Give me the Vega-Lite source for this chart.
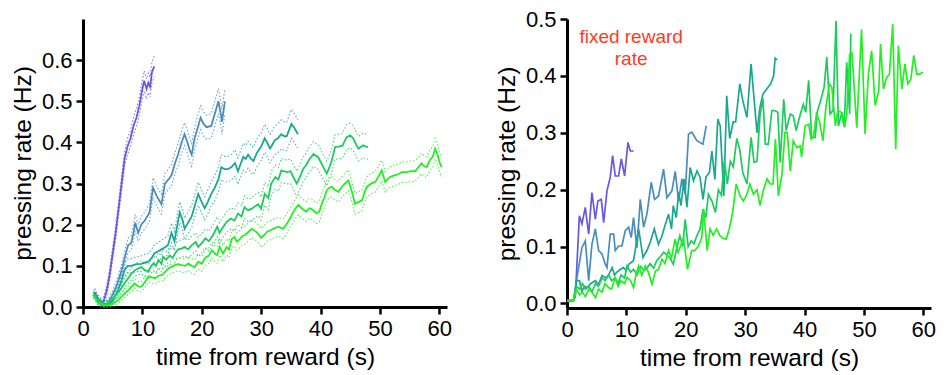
{
"$schema": "https://vega.github.io/schema/vega-lite/v6.json",
"padding": {"left": 10, "top": 8, "right": 5, "bottom": 5},
"background": "white",
"spacing": 42,
"datasets": {
"left": [
{"s":"1","t":2.0,"m":0.035,"lo":0.025,"hi":0.045},{"s":"1","t":2.5,"m":0.02,"lo":0.011,"hi":0.029},{"s":"1","t":3.0,"m":0.012,"lo":0.003,"hi":0.021},{"s":"1","t":3.5,"m":0.015,"lo":0.005,"hi":0.025},{"s":"1","t":4.0,"m":0.04,"lo":0.028,"hi":0.052},{"s":"1","t":4.5,"m":0.08,"lo":0.066,"hi":0.094},{"s":"1","t":5.0,"m":0.13,"lo":0.115,"hi":0.145},{"s":"1","t":5.5,"m":0.18,"lo":0.164,"hi":0.196},{"s":"1","t":6.0,"m":0.24,"lo":0.223,"hi":0.257},{"s":"1","t":6.5,"m":0.30,"lo":0.282,"hi":0.318},{"s":"1","t":7.0,"m":0.36,"lo":0.342,"hi":0.378},{"s":"1","t":7.5,"m":0.39,"lo":0.37,"hi":0.41},{"s":"1","t":8.0,"m":0.41,"lo":0.39,"hi":0.43},{"s":"1","t":8.5,"m":0.44,"lo":0.419,"hi":0.461},{"s":"1","t":9.0,"m":0.46,"lo":0.438,"hi":0.482},{"s":"1","t":9.5,"m":0.49,"lo":0.468,"hi":0.512},{"s":"1","t":10.0,"m":0.53,"lo":0.507,"hi":0.553},{"s":"1","t":10.3,"m":0.55,"lo":0.526,"hi":0.574},{"s":"1","t":10.7,"m":0.53,"lo":0.506,"hi":0.554},{"s":"1","t":11.0,"m":0.545,"lo":0.521,"hi":0.569},{"s":"1","t":11.3,"m":0.535,"lo":0.51,"hi":0.56},{"s":"1","t":11.6,"m":0.57,"lo":0.545,"hi":0.595},{"s":"1","t":12.0,"m":0.585,"lo":0.56,"hi":0.61},
{"s":"2","t":2.0,"m":0.03,"lo":0.022,"hi":0.038},{"s":"2","t":2.5,"m":0.015,"lo":0.007,"hi":0.023},{"s":"2","t":3.0,"m":0.008,"lo":0.0,"hi":0.016},{"s":"2","t":3.6,"m":0.003,"lo":0.0,"hi":0.012},{"s":"2","t":4.2,"m":0.01,"lo":0.002,"hi":0.018},{"s":"2","t":5.0,"m":0.03,"lo":0.02,"hi":0.04},{"s":"2","t":5.6,"m":0.05,"lo":0.038,"hi":0.062},{"s":"2","t":6.2,"m":0.075,"lo":0.061,"hi":0.089},{"s":"2","t":6.7,"m":0.1,"lo":0.084,"hi":0.116},{"s":"2","t":7.2,"m":0.13,"lo":0.113,"hi":0.147},{"s":"2","t":7.6,"m":0.15,"lo":0.132,"hi":0.168},{"s":"2","t":8.1,"m":0.155,"lo":0.137,"hi":0.173},{"s":"2","t":8.5,"m":0.18,"lo":0.16,"hi":0.2},{"s":"2","t":8.8,"m":0.205,"lo":0.185,"hi":0.225},{"s":"2","t":9.3,"m":0.18,"lo":0.16,"hi":0.2},{"s":"2","t":9.8,"m":0.2,"lo":0.18,"hi":0.22},{"s":"2","t":10.4,"m":0.21,"lo":0.19,"hi":0.23},{"s":"2","t":11.2,"m":0.23,"lo":0.208,"hi":0.252},{"s":"2","t":11.8,"m":0.29,"lo":0.266,"hi":0.314},{"s":"2","t":12.4,"m":0.27,"lo":0.246,"hi":0.294},{"s":"2","t":13.2,"m":0.25,"lo":0.226,"hi":0.274},{"s":"2","t":13.8,"m":0.30,"lo":0.275,"hi":0.325},{"s":"2","t":14.4,"m":0.31,"lo":0.285,"hi":0.335},{"s":"2","t":14.9,"m":0.32,"lo":0.294,"hi":0.346},{"s":"2","t":15.5,"m":0.35,"lo":0.324,"hi":0.376},{"s":"2","t":16.0,"m":0.37,"lo":0.343,"hi":0.397},{"s":"2","t":16.6,"m":0.40,"lo":0.373,"hi":0.427},{"s":"2","t":17.1,"m":0.42,"lo":0.392,"hi":0.448},{"s":"2","t":17.6,"m":0.40,"lo":0.372,"hi":0.428},{"s":"2","t":18.0,"m":0.38,"lo":0.352,"hi":0.408},{"s":"2","t":18.3,"m":0.37,"lo":0.342,"hi":0.398},{"s":"2","t":18.8,"m":0.41,"lo":0.382,"hi":0.438},{"s":"2","t":19.4,"m":0.44,"lo":0.411,"hi":0.469},{"s":"2","t":19.8,"m":0.46,"lo":0.431,"hi":0.489},{"s":"2","t":20.3,"m":0.445,"lo":0.416,"hi":0.474},{"s":"2","t":20.8,"m":0.437,"lo":0.408,"hi":0.466},{"s":"2","t":21.6,"m":0.44,"lo":0.41,"hi":0.47},{"s":"2","t":22.2,"m":0.47,"lo":0.44,"hi":0.5},{"s":"2","t":22.8,"m":0.50,"lo":0.47,"hi":0.53},{"s":"2","t":23.2,"m":0.47,"lo":0.44,"hi":0.5},{"s":"2","t":23.4,"m":0.45,"lo":0.42,"hi":0.48},{"s":"2","t":23.9,"m":0.50,"lo":0.47,"hi":0.53},
{"s":"3","t":1.8,"m":0.035,"lo":0.027,"hi":0.043},{"s":"3","t":2.5,"m":0.02,"lo":0.012,"hi":0.028},{"s":"3","t":3.2,"m":0.01,"lo":0.002,"hi":0.018},{"s":"3","t":4.2,"m":0.005,"lo":0.0,"hi":0.013},{"s":"3","t":5.0,"m":0.015,"lo":0.005,"hi":0.025},{"s":"3","t":5.9,"m":0.04,"lo":0.028,"hi":0.052},{"s":"3","t":6.5,"m":0.065,"lo":0.051,"hi":0.079},{"s":"3","t":7.0,"m":0.09,"lo":0.075,"hi":0.105},{"s":"3","t":7.5,"m":0.1,"lo":0.084,"hi":0.116},{"s":"3","t":8.1,"m":0.1,"lo":0.083,"hi":0.117},{"s":"3","t":9.0,"m":0.104,"lo":0.086,"hi":0.122},{"s":"3","t":9.8,"m":0.105,"lo":0.086,"hi":0.124},{"s":"3","t":10.4,"m":0.108,"lo":0.088,"hi":0.128},{"s":"3","t":11.0,"m":0.11,"lo":0.09,"hi":0.13},{"s":"3","t":11.6,"m":0.12,"lo":0.099,"hi":0.141},{"s":"3","t":12.0,"m":0.13,"lo":0.109,"hi":0.151},{"s":"3","t":12.6,"m":0.135,"lo":0.113,"hi":0.157},{"s":"3","t":13.2,"m":0.14,"lo":0.118,"hi":0.162},{"s":"3","t":13.8,"m":0.145,"lo":0.122,"hi":0.168},{"s":"3","t":14.3,"m":0.15,"lo":0.127,"hi":0.173},{"s":"3","t":14.9,"m":0.18,"lo":0.156,"hi":0.204},{"s":"3","t":15.4,"m":0.16,"lo":0.136,"hi":0.184},{"s":"3","t":15.9,"m":0.2,"lo":0.175,"hi":0.225},{"s":"3","t":16.3,"m":0.23,"lo":0.205,"hi":0.255},{"s":"3","t":16.8,"m":0.21,"lo":0.185,"hi":0.235},{"s":"3","t":17.1,"m":0.19,"lo":0.164,"hi":0.216},{"s":"3","t":17.7,"m":0.205,"lo":0.179,"hi":0.231},{"s":"3","t":18.3,"m":0.22,"lo":0.193,"hi":0.247},{"s":"3","t":18.9,"m":0.25,"lo":0.223,"hi":0.277},{"s":"3","t":19.4,"m":0.275,"lo":0.247,"hi":0.303},{"s":"3","t":20.0,"m":0.255,"lo":0.227,"hi":0.283},{"s":"3","t":20.5,"m":0.24,"lo":0.212,"hi":0.268},{"s":"3","t":21.0,"m":0.255,"lo":0.226,"hi":0.284},{"s":"3","t":21.6,"m":0.275,"lo":0.246,"hi":0.304},{"s":"3","t":22.2,"m":0.29,"lo":0.26,"hi":0.32},{"s":"3","t":22.8,"m":0.31,"lo":0.28,"hi":0.34},{"s":"3","t":23.3,"m":0.34,"lo":0.31,"hi":0.37},{"s":"3","t":23.8,"m":0.335,"lo":0.304,"hi":0.366},{"s":"3","t":24.4,"m":0.335,"lo":0.304,"hi":0.366},{"s":"3","t":25.0,"m":0.34,"lo":0.309,"hi":0.371},{"s":"3","t":25.6,"m":0.35,"lo":0.318,"hi":0.382},{"s":"3","t":26.1,"m":0.33,"lo":0.298,"hi":0.362},{"s":"3","t":26.6,"m":0.35,"lo":0.318,"hi":0.382},{"s":"3","t":27.0,"m":0.365,"lo":0.332,"hi":0.398},{"s":"3","t":27.4,"m":0.36,"lo":0.327,"hi":0.393},{"s":"3","t":27.8,"m":0.37,"lo":0.337,"hi":0.403},{"s":"3","t":28.3,"m":0.36,"lo":0.327,"hi":0.393},{"s":"3","t":28.7,"m":0.355,"lo":0.322,"hi":0.388},{"s":"3","t":29.3,"m":0.375,"lo":0.341,"hi":0.409},{"s":"3","t":30.0,"m":0.39,"lo":0.356,"hi":0.424},{"s":"3","t":30.6,"m":0.41,"lo":0.376,"hi":0.444},{"s":"3","t":31.0,"m":0.4,"lo":0.366,"hi":0.434},{"s":"3","t":31.5,"m":0.385,"lo":0.35,"hi":0.42},{"s":"3","t":31.9,"m":0.395,"lo":0.36,"hi":0.43},{"s":"3","t":32.3,"m":0.405,"lo":0.37,"hi":0.44},{"s":"3","t":32.8,"m":0.41,"lo":0.375,"hi":0.445},{"s":"3","t":33.4,"m":0.42,"lo":0.385,"hi":0.455},{"s":"3","t":33.9,"m":0.415,"lo":0.38,"hi":0.45},{"s":"3","t":34.3,"m":0.415,"lo":0.38,"hi":0.45},{"s":"3","t":34.7,"m":0.43,"lo":0.395,"hi":0.465},{"s":"3","t":35.1,"m":0.445,"lo":0.41,"hi":0.48},{"s":"3","t":35.6,"m":0.435,"lo":0.4,"hi":0.47},{"s":"3","t":36.2,"m":0.42,"lo":0.385,"hi":0.455},
{"s":"4","t":1.7,"m":0.03,"lo":0.022,"hi":0.038},{"s":"4","t":2.5,"m":0.015,"lo":0.007,"hi":0.023},{"s":"4","t":3.6,"m":0.005,"lo":0.0,"hi":0.013},{"s":"4","t":4.5,"m":0.012,"lo":0.004,"hi":0.02},{"s":"4","t":5.3,"m":0.025,"lo":0.015,"hi":0.035},{"s":"4","t":6.2,"m":0.04,"lo":0.029,"hi":0.051},{"s":"4","t":7.0,"m":0.057,"lo":0.045,"hi":0.069},{"s":"4","t":7.6,"m":0.07,"lo":0.057,"hi":0.083},{"s":"4","t":8.1,"m":0.08,"lo":0.066,"hi":0.094},{"s":"4","t":8.8,"m":0.09,"lo":0.075,"hi":0.105},{"s":"4","t":9.8,"m":0.097,"lo":0.081,"hi":0.113},{"s":"4","t":10.4,"m":0.09,"lo":0.074,"hi":0.106},{"s":"4","t":11.0,"m":0.086,"lo":0.069,"hi":0.103},{"s":"4","t":11.5,"m":0.1,"lo":0.083,"hi":0.117},{"s":"4","t":11.9,"m":0.106,"lo":0.088,"hi":0.124},{"s":"4","t":12.3,"m":0.1,"lo":0.082,"hi":0.118},{"s":"4","t":12.7,"m":0.114,"lo":0.096,"hi":0.132},{"s":"4","t":13.2,"m":0.105,"lo":0.086,"hi":0.124},{"s":"4","t":13.5,"m":0.122,"lo":0.103,"hi":0.141},{"s":"4","t":14.0,"m":0.115,"lo":0.096,"hi":0.134},{"s":"4","t":14.6,"m":0.125,"lo":0.105,"hi":0.145},{"s":"4","t":15.1,"m":0.12,"lo":0.1,"hi":0.14},{"s":"4","t":15.5,"m":0.13,"lo":0.11,"hi":0.15},{"s":"4","t":16.0,"m":0.14,"lo":0.119,"hi":0.161},{"s":"4","t":16.6,"m":0.142,"lo":0.121,"hi":0.163},{"s":"4","t":17.1,"m":0.146,"lo":0.125,"hi":0.167},{"s":"4","t":17.7,"m":0.14,"lo":0.118,"hi":0.162},{"s":"4","t":18.3,"m":0.15,"lo":0.128,"hi":0.172},{"s":"4","t":19.0,"m":0.158,"lo":0.136,"hi":0.18},{"s":"4","t":19.4,"m":0.146,"lo":0.123,"hi":0.169},{"s":"4","t":20.0,"m":0.155,"lo":0.132,"hi":0.178},{"s":"4","t":20.6,"m":0.167,"lo":0.144,"hi":0.19},{"s":"4","t":21.2,"m":0.16,"lo":0.136,"hi":0.184},{"s":"4","t":21.9,"m":0.175,"lo":0.151,"hi":0.199},{"s":"4","t":22.6,"m":0.195,"lo":0.171,"hi":0.219},{"s":"4","t":23.0,"m":0.18,"lo":0.155,"hi":0.205},{"s":"4","t":23.4,"m":0.19,"lo":0.165,"hi":0.215},{"s":"4","t":24.2,"m":0.207,"lo":0.182,"hi":0.232},{"s":"4","t":24.9,"m":0.215,"lo":0.189,"hi":0.241},{"s":"4","t":25.5,"m":0.21,"lo":0.184,"hi":0.236},{"s":"4","t":26.1,"m":0.227,"lo":0.201,"hi":0.253},{"s":"4","t":26.7,"m":0.22,"lo":0.193,"hi":0.247},{"s":"4","t":27.2,"m":0.243,"lo":0.216,"hi":0.27},{"s":"4","t":27.8,"m":0.235,"lo":0.208,"hi":0.262},{"s":"4","t":28.4,"m":0.239,"lo":0.212,"hi":0.266},{"s":"4","t":29.0,"m":0.245,"lo":0.217,"hi":0.273},{"s":"4","t":29.5,"m":0.25,"lo":0.222,"hi":0.278},{"s":"4","t":30.0,"m":0.239,"lo":0.211,"hi":0.267},{"s":"4","t":30.6,"m":0.275,"lo":0.247,"hi":0.303},{"s":"4","t":31.2,"m":0.265,"lo":0.237,"hi":0.293},{"s":"4","t":31.7,"m":0.3,"lo":0.271,"hi":0.329},{"s":"4","t":32.4,"m":0.316,"lo":0.287,"hi":0.345},{"s":"4","t":32.9,"m":0.31,"lo":0.281,"hi":0.339},{"s":"4","t":33.4,"m":0.332,"lo":0.303,"hi":0.361},{"s":"4","t":33.8,"m":0.33,"lo":0.301,"hi":0.359},{"s":"4","t":34.4,"m":0.328,"lo":0.299,"hi":0.357},{"s":"4","t":34.95,"m":0.33,"lo":0.3,"hi":0.36},{"s":"4","t":35.4,"m":0.316,"lo":0.286,"hi":0.346},{"s":"4","t":36.0,"m":0.3,"lo":0.27,"hi":0.33},{"s":"4","t":36.5,"m":0.315,"lo":0.285,"hi":0.345},{"s":"4","t":37.1,"m":0.336,"lo":0.306,"hi":0.366},{"s":"4","t":37.6,"m":0.345,"lo":0.315,"hi":0.375},{"s":"4","t":38.0,"m":0.356,"lo":0.326,"hi":0.386},{"s":"4","t":38.8,"m":0.372,"lo":0.342,"hi":0.402},{"s":"4","t":39.6,"m":0.364,"lo":0.334,"hi":0.394},{"s":"4","t":40.2,"m":0.348,"lo":0.318,"hi":0.378},{"s":"4","t":41.05,"m":0.324,"lo":0.294,"hi":0.354},{"s":"4","t":41.5,"m":0.34,"lo":0.31,"hi":0.37},{"s":"4","t":41.9,"m":0.356,"lo":0.326,"hi":0.386},{"s":"4","t":42.45,"m":0.389,"lo":0.359,"hi":0.419},{"s":"4","t":43.0,"m":0.39,"lo":0.36,"hi":0.42},{"s":"4","t":43.7,"m":0.392,"lo":0.362,"hi":0.422},{"s":"4","t":44.4,"m":0.413,"lo":0.383,"hi":0.443},{"s":"4","t":45.0,"m":0.417,"lo":0.387,"hi":0.447},{"s":"4","t":45.5,"m":0.41,"lo":0.38,"hi":0.44},{"s":"4","t":46.0,"m":0.395,"lo":0.365,"hi":0.425},{"s":"4","t":46.4,"m":0.385,"lo":0.355,"hi":0.415},{"s":"4","t":47.2,"m":0.393,"lo":0.363,"hi":0.423},{"s":"4","t":47.6,"m":0.39,"lo":0.36,"hi":0.42},{"s":"4","t":48.0,"m":0.389,"lo":0.359,"hi":0.419},
{"s":"5","t":1.7,"m":0.03,"lo":0.023,"hi":0.037},{"s":"5","t":2.5,"m":0.012,"lo":0.005,"hi":0.019},{"s":"5","t":3.3,"m":0.006,"lo":0.0,"hi":0.013},{"s":"5","t":4.2,"m":0.004,"lo":0.0,"hi":0.011},{"s":"5","t":5.0,"m":0.008,"lo":0.001,"hi":0.015},{"s":"5","t":5.9,"m":0.016,"lo":0.008,"hi":0.024},{"s":"5","t":6.8,"m":0.03,"lo":0.021,"hi":0.039},{"s":"5","t":7.6,"m":0.04,"lo":0.03,"hi":0.05},{"s":"5","t":8.2,"m":0.05,"lo":0.039,"hi":0.061},{"s":"5","t":8.7,"m":0.057,"lo":0.046,"hi":0.068},{"s":"5","t":9.3,"m":0.05,"lo":0.038,"hi":0.062},{"s":"5","t":9.8,"m":0.049,"lo":0.037,"hi":0.061},{"s":"5","t":10.4,"m":0.06,"lo":0.047,"hi":0.073},{"s":"5","t":11.0,"m":0.074,"lo":0.061,"hi":0.087},{"s":"5","t":11.6,"m":0.072,"lo":0.058,"hi":0.086},{"s":"5","t":12.15,"m":0.07,"lo":0.056,"hi":0.084},{"s":"5","t":12.7,"m":0.076,"lo":0.062,"hi":0.09},{"s":"5","t":13.3,"m":0.078,"lo":0.063,"hi":0.093},{"s":"5","t":13.8,"m":0.085,"lo":0.07,"hi":0.1},{"s":"5","t":14.4,"m":0.094,"lo":0.079,"hi":0.109},{"s":"5","t":15.0,"m":0.098,"lo":0.082,"hi":0.114},{"s":"5","t":15.5,"m":0.102,"lo":0.086,"hi":0.118},{"s":"5","t":16.1,"m":0.104,"lo":0.088,"hi":0.12},{"s":"5","t":16.6,"m":0.102,"lo":0.085,"hi":0.119},{"s":"5","t":17.2,"m":0.1,"lo":0.083,"hi":0.117},{"s":"5","t":17.7,"m":0.106,"lo":0.089,"hi":0.123},{"s":"5","t":18.3,"m":0.1,"lo":0.082,"hi":0.118},{"s":"5","t":18.8,"m":0.097,"lo":0.079,"hi":0.115},{"s":"5","t":19.4,"m":0.11,"lo":0.092,"hi":0.128},{"s":"5","t":20.0,"m":0.105,"lo":0.087,"hi":0.123},{"s":"5","t":20.6,"m":0.12,"lo":0.101,"hi":0.139},{"s":"5","t":21.2,"m":0.125,"lo":0.106,"hi":0.144},{"s":"5","t":21.7,"m":0.138,"lo":0.119,"hi":0.157},{"s":"5","t":22.2,"m":0.13,"lo":0.111,"hi":0.149},{"s":"5","t":22.6,"m":0.126,"lo":0.106,"hi":0.146},{"s":"5","t":23.0,"m":0.146,"lo":0.126,"hi":0.166},{"s":"5","t":23.6,"m":0.13,"lo":0.11,"hi":0.15},{"s":"5","t":24.2,"m":0.146,"lo":0.126,"hi":0.166},{"s":"5","t":24.6,"m":0.14,"lo":0.12,"hi":0.16},{"s":"5","t":25.05,"m":0.165,"lo":0.144,"hi":0.186},{"s":"5","t":25.5,"m":0.17,"lo":0.149,"hi":0.191},{"s":"5","t":25.9,"m":0.159,"lo":0.138,"hi":0.18},{"s":"5","t":26.4,"m":0.165,"lo":0.144,"hi":0.186},{"s":"5","t":26.8,"m":0.172,"lo":0.151,"hi":0.193},{"s":"5","t":27.3,"m":0.175,"lo":0.153,"hi":0.197},{"s":"5","t":27.9,"m":0.183,"lo":0.161,"hi":0.205},{"s":"5","t":28.4,"m":0.19,"lo":0.168,"hi":0.212},{"s":"5","t":29.0,"m":0.185,"lo":0.163,"hi":0.207},{"s":"5","t":29.5,"m":0.178,"lo":0.156,"hi":0.2},{"s":"5","t":30.0,"m":0.168,"lo":0.145,"hi":0.191},{"s":"5","t":30.5,"m":0.175,"lo":0.152,"hi":0.198},{"s":"5","t":31.0,"m":0.183,"lo":0.16,"hi":0.206},{"s":"5","t":31.5,"m":0.186,"lo":0.163,"hi":0.209},{"s":"5","t":32.0,"m":0.19,"lo":0.167,"hi":0.213},{"s":"5","t":32.9,"m":0.195,"lo":0.172,"hi":0.218},{"s":"5","t":33.7,"m":0.19,"lo":0.166,"hi":0.214},{"s":"5","t":34.2,"m":0.2,"lo":0.176,"hi":0.224},{"s":"5","t":34.7,"m":0.211,"lo":0.187,"hi":0.235},{"s":"5","t":35.2,"m":0.225,"lo":0.201,"hi":0.249},{"s":"5","t":35.8,"m":0.24,"lo":0.216,"hi":0.264},{"s":"5","t":36.3,"m":0.248,"lo":0.224,"hi":0.272},{"s":"5","t":36.8,"m":0.24,"lo":0.216,"hi":0.264},{"s":"5","t":37.6,"m":0.232,"lo":0.208,"hi":0.256},{"s":"5","t":38.1,"m":0.24,"lo":0.216,"hi":0.264},{"s":"5","t":38.5,"m":0.238,"lo":0.213,"hi":0.263},{"s":"5","t":39.3,"m":0.228,"lo":0.203,"hi":0.253},{"s":"5","t":39.8,"m":0.232,"lo":0.207,"hi":0.257},{"s":"5","t":40.2,"m":0.25,"lo":0.225,"hi":0.275},{"s":"5","t":40.6,"m":0.265,"lo":0.24,"hi":0.29},{"s":"5","t":41.05,"m":0.284,"lo":0.259,"hi":0.309},{"s":"5","t":41.5,"m":0.29,"lo":0.265,"hi":0.315},{"s":"5","t":41.9,"m":0.292,"lo":0.267,"hi":0.317},{"s":"5","t":42.4,"m":0.285,"lo":0.26,"hi":0.31},{"s":"5","t":43.0,"m":0.28,"lo":0.255,"hi":0.305},{"s":"5","t":43.5,"m":0.29,"lo":0.265,"hi":0.315},{"s":"5","t":44.1,"m":0.3,"lo":0.275,"hi":0.325},{"s":"5","t":44.7,"m":0.308,"lo":0.283,"hi":0.333},{"s":"5","t":45.2,"m":0.285,"lo":0.26,"hi":0.31},{"s":"5","t":45.8,"m":0.251,"lo":0.226,"hi":0.276},{"s":"5","t":46.4,"m":0.255,"lo":0.23,"hi":0.28},{"s":"5","t":47.0,"m":0.26,"lo":0.235,"hi":0.285},{"s":"5","t":47.4,"m":0.278,"lo":0.253,"hi":0.303},{"s":"5","t":47.8,"m":0.292,"lo":0.267,"hi":0.317},{"s":"5","t":48.5,"m":0.3,"lo":0.275,"hi":0.325},{"s":"5","t":49.2,"m":0.304,"lo":0.279,"hi":0.329},{"s":"5","t":49.8,"m":0.318,"lo":0.293,"hi":0.343},{"s":"5","t":50.3,"m":0.332,"lo":0.307,"hi":0.357},{"s":"5","t":50.9,"m":0.304,"lo":0.279,"hi":0.329},{"s":"5","t":51.3,"m":0.31,"lo":0.285,"hi":0.335},{"s":"5","t":51.7,"m":0.316,"lo":0.291,"hi":0.341},{"s":"5","t":52.4,"m":0.32,"lo":0.295,"hi":0.345},{"s":"5","t":53.0,"m":0.322,"lo":0.297,"hi":0.347},{"s":"5","t":53.7,"m":0.328,"lo":0.303,"hi":0.353},{"s":"5","t":54.5,"m":0.328,"lo":0.303,"hi":0.353},{"s":"5","t":55.2,"m":0.33,"lo":0.305,"hi":0.355},{"s":"5","t":55.9,"m":0.33,"lo":0.305,"hi":0.355},{"s":"5","t":56.5,"m":0.34,"lo":0.315,"hi":0.365},{"s":"5","t":57.0,"m":0.349,"lo":0.324,"hi":0.374},{"s":"5","t":57.5,"m":0.342,"lo":0.317,"hi":0.367},{"s":"5","t":57.9,"m":0.34,"lo":0.315,"hi":0.365},{"s":"5","t":58.4,"m":0.357,"lo":0.332,"hi":0.382},{"s":"5","t":58.9,"m":0.365,"lo":0.34,"hi":0.39},{"s":"5","t":59.3,"m":0.385,"lo":0.36,"hi":0.41},{"s":"5","t":59.6,"m":0.375,"lo":0.35,"hi":0.4},{"s":"5","t":59.8,"m":0.365,"lo":0.34,"hi":0.39},{"s":"5","t":60.1,"m":0.35,"lo":0.325,"hi":0.375},{"s":"5","t":60.4,"m":0.34,"lo":0.315,"hi":0.365}
],
"right": [
{"s":"1","t":0,"v":0.005},{"s":"1","t":1.0,"v":0.005},{"s":"1","t":1.4,"v":0.011},{"s":"1","t":2.08,"v":0.154},{"s":"1","t":2.52,"v":0.14},{"s":"1","t":3.08,"v":0.169},{"s":"1","t":3.65,"v":0.122},{"s":"1","t":4.2,"v":0.195},{"s":"1","t":4.77,"v":0.148},{"s":"1","t":5.2,"v":0.18},{"s":"1","t":5.78,"v":0.183},{"s":"1","t":6.17,"v":0.142},{"s":"1","t":6.73,"v":0.198},{"s":"1","t":7.29,"v":0.222},{"s":"1","t":7.68,"v":0.26},{"s":"1","t":8.13,"v":0.224},{"s":"1","t":8.69,"v":0.224},{"s":"1","t":9.14,"v":0.254},{"s":"1","t":9.7,"v":0.224},{"s":"1","t":10.26,"v":0.283},{"s":"1","t":10.66,"v":0.268},{"s":"1","t":11.2,"v":0.268},
{"s":"2","t":0,"v":0.005},{"s":"2","t":1.12,"v":0.005},{"s":"2","t":1.68,"v":0.046},{"s":"2","t":2.52,"v":0.098},{"s":"2","t":3.08,"v":0.11},{"s":"2","t":3.65,"v":0.04},{"s":"2","t":4.2,"v":0.104},{"s":"2","t":4.77,"v":0.131},{"s":"2","t":5.33,"v":0.093},{"s":"2","t":5.89,"v":0.087},{"s":"2","t":6.45,"v":0.069},{"s":"2","t":6.73,"v":0.063},{"s":"2","t":7.29,"v":0.122},{"s":"2","t":7.85,"v":0.122},{"s":"2","t":8.13,"v":0.093},{"s":"2","t":8.69,"v":0.101},{"s":"2","t":9.25,"v":0.101},{"s":"2","t":9.81,"v":0.128},{"s":"2","t":10.38,"v":0.134},{"s":"2","t":10.82,"v":0.116},{"s":"2","t":11.2,"v":0.151},{"s":"2","t":11.78,"v":0.098},{"s":"2","t":12.34,"v":0.183},{"s":"2","t":12.9,"v":0.134},{"s":"2","t":13.46,"v":0.157},{"s":"2","t":14.19,"v":0.213},{"s":"2","t":14.75,"v":0.183},{"s":"2","t":15.42,"v":0.189},{"s":"2","t":16.26,"v":0.236},{"s":"2","t":16.83,"v":0.186},{"s":"2","t":17.67,"v":0.198},{"s":"2","t":18.23,"v":0.232},{"s":"2","t":18.79,"v":0.18},{"s":"2","t":19.35,"v":0.219},{"s":"2","t":19.9,"v":0.192},{"s":"2","t":20.47,"v":0.298},{"s":"2","t":21.03,"v":0.301},{"s":"2","t":21.87,"v":0.286},{"s":"2","t":22.9,"v":0.28},{"s":"2","t":23.44,"v":0.312},
{"s":"3","t":0,"v":0.005},{"s":"3","t":1.1,"v":0.005},{"s":"3","t":1.6,"v":0.04},{"s":"3","t":2.1,"v":0.04},{"s":"3","t":2.5,"v":0.022},{"s":"3","t":3.0,"v":0.03},{"s":"3","t":3.4,"v":0.028},{"s":"3","t":4.0,"v":0.035},{"s":"3","t":4.8,"v":0.04},{"s":"3","t":5.3,"v":0.033},{"s":"3","t":5.9,"v":0.049},{"s":"3","t":6.5,"v":0.045},{"s":"3","t":7.0,"v":0.05},{"s":"3","t":7.6,"v":0.063},{"s":"3","t":8.0,"v":0.05},{"s":"3","t":8.4,"v":0.055},{"s":"3","t":9.0,"v":0.06},{"s":"3","t":9.5,"v":0.063},{"s":"3","t":10.0,"v":0.058},{"s":"3","t":10.4,"v":0.069},{"s":"3","t":11.2,"v":0.075},{"s":"3","t":12.06,"v":0.131},{"s":"3","t":12.8,"v":0.081},{"s":"3","t":13.46,"v":0.093},{"s":"3","t":14.0,"v":0.107},{"s":"3","t":14.7,"v":0.131},{"s":"3","t":15.4,"v":0.104},{"s":"3","t":16.0,"v":0.119},{"s":"3","t":16.5,"v":0.137},{"s":"3","t":17.1,"v":0.157},{"s":"3","t":17.6,"v":0.131},{"s":"3","t":17.9,"v":0.172},{"s":"3","t":18.4,"v":0.151},{"s":"3","t":18.8,"v":0.195},{"s":"3","t":19.2,"v":0.172},{"s":"3","t":19.7,"v":0.219},{"s":"3","t":20.2,"v":0.169},{"s":"3","t":20.75,"v":0.239},{"s":"3","t":21.3,"v":0.216},{"s":"3","t":21.9,"v":0.233},{"s":"3","t":22.4,"v":0.222},{"s":"3","t":22.9,"v":0.183},{"s":"3","t":23.4,"v":0.222},{"s":"3","t":24.0,"v":0.231},{"s":"3","t":24.4,"v":0.268},{"s":"3","t":24.9,"v":0.218},{"s":"3","t":25.4,"v":0.324},{"s":"3","t":25.8,"v":0.312},{"s":"3","t":26.4,"v":0.189},{"s":"3","t":26.9,"v":0.365},{"s":"3","t":27.4,"v":0.29},{"s":"3","t":28.0,"v":0.319},{"s":"3","t":28.4,"v":0.319},{"s":"3","t":29.1,"v":0.386},{"s":"3","t":29.6,"v":0.357},{"s":"3","t":30.3,"v":0.327},{"s":"3","t":31.0,"v":0.421},{"s":"3","t":31.5,"v":0.36},{"s":"3","t":32.0,"v":0.3},{"s":"3","t":32.5,"v":0.345},{"s":"3","t":33.0,"v":0.368},{"s":"3","t":33.5,"v":0.375},{"s":"3","t":34.3,"v":0.386},{"s":"3","t":34.8,"v":0.4},{"s":"3","t":35.05,"v":0.431},{"s":"3","t":35.4,"v":0.428},
{"s":"4","t":0,"v":0.005},{"s":"4","t":1.1,"v":0.005},{"s":"4","t":1.6,"v":0.03},{"s":"4","t":2.1,"v":0.025},{"s":"4","t":2.6,"v":0.035},{"s":"4","t":3.1,"v":0.025},{"s":"4","t":3.7,"v":0.03},{"s":"4","t":4.2,"v":0.02},{"s":"4","t":4.8,"v":0.035},{"s":"4","t":5.3,"v":0.03},{"s":"4","t":5.9,"v":0.045},{"s":"4","t":6.4,"v":0.04},{"s":"4","t":7.0,"v":0.05},{"s":"4","t":7.5,"v":0.04},{"s":"4","t":8.1,"v":0.045},{"s":"4","t":8.6,"v":0.035},{"s":"4","t":9.1,"v":0.05},{"s":"4","t":9.7,"v":0.045},{"s":"4","t":10.1,"v":0.066},{"s":"4","t":10.7,"v":0.055},{"s":"4","t":11.2,"v":0.06},{"s":"4","t":11.8,"v":0.05},{"s":"4","t":12.4,"v":0.065},{"s":"4","t":13.0,"v":0.058},{"s":"4","t":13.5,"v":0.063},{"s":"4","t":14.0,"v":0.07},{"s":"4","t":14.6,"v":0.062},{"s":"4","t":15.1,"v":0.075},{"s":"4","t":15.7,"v":0.082},{"s":"4","t":16.3,"v":0.09},{"s":"4","t":16.8,"v":0.086},{"s":"4","t":17.3,"v":0.08},{"s":"4","t":17.9,"v":0.069},{"s":"4","t":18.5,"v":0.098},{"s":"4","t":19.0,"v":0.119},{"s":"4","t":19.5,"v":0.1},{"s":"4","t":19.9,"v":0.148},{"s":"4","t":20.4,"v":0.1},{"s":"4","t":20.9,"v":0.11},{"s":"4","t":21.4,"v":0.105},{"s":"4","t":21.9,"v":0.12},{"s":"4","t":22.4,"v":0.13},{"s":"4","t":22.9,"v":0.166},{"s":"4","t":23.4,"v":0.151},{"s":"4","t":23.8,"v":0.192},{"s":"4","t":24.4,"v":0.18},{"s":"4","t":25.0,"v":0.16},{"s":"4","t":25.5,"v":0.2},{"s":"4","t":26.0,"v":0.19},{"s":"4","t":26.5,"v":0.251},{"s":"4","t":27.0,"v":0.21},{"s":"4","t":27.5,"v":0.25},{"s":"4","t":28.0,"v":0.24},{"s":"4","t":28.6,"v":0.29},{"s":"4","t":29.1,"v":0.27},{"s":"4","t":29.6,"v":0.23},{"s":"4","t":30.3,"v":0.21},{"s":"4","t":31.0,"v":0.292},{"s":"4","t":31.5,"v":0.248},{"s":"4","t":32.0,"v":0.25},{"s":"4","t":32.5,"v":0.33},{"s":"4","t":33.0,"v":0.36},{"s":"4","t":33.4,"v":0.28},{"s":"4","t":33.9,"v":0.28},{"s":"4","t":34.5,"v":0.339},{"s":"4","t":35.0,"v":0.339},{"s":"4","t":35.5,"v":0.336},{"s":"4","t":35.9,"v":0.248},{"s":"4","t":36.5,"v":0.359},{"s":"4","t":36.9,"v":0.304},{"s":"4","t":37.6,"v":0.333},{"s":"4","t":38.1,"v":0.33},{"s":"4","t":38.6,"v":0.304},{"s":"4","t":39.3,"v":0.333},{"s":"4","t":39.8,"v":0.35},{"s":"4","t":40.2,"v":0.336},{"s":"4","t":40.7,"v":0.392},{"s":"4","t":41.2,"v":0.292},{"s":"4","t":41.8,"v":0.292},{"s":"4","t":42.2,"v":0.339},{"s":"4","t":42.7,"v":0.356},{"s":"4","t":43.3,"v":0.38},{"s":"4","t":43.75,"v":0.433},{"s":"4","t":44.3,"v":0.333},{"s":"4","t":44.8,"v":0.339},{"s":"4","t":45.3,"v":0.497},{"s":"4","t":45.7,"v":0.312},{"s":"4","t":46.3,"v":0.336},{"s":"4","t":46.7,"v":0.31},{"s":"4","t":47.1,"v":0.424},{"s":"4","t":47.6,"v":0.333},{"s":"4","t":47.8,"v":0.474},
{"s":"5","t":0,"v":0.005},{"s":"5","t":1.1,"v":0.005},{"s":"5","t":1.6,"v":0.025},{"s":"5","t":2.1,"v":0.015},{"s":"5","t":2.6,"v":0.02},{"s":"5","t":3.1,"v":0.012},{"s":"5","t":3.7,"v":0.025},{"s":"5","t":4.2,"v":0.02},{"s":"5","t":4.8,"v":0.01},{"s":"5","t":5.3,"v":0.025},{"s":"5","t":5.9,"v":0.02},{"s":"5","t":6.4,"v":0.035},{"s":"5","t":7.0,"v":0.028},{"s":"5","t":7.5,"v":0.025},{"s":"5","t":8.1,"v":0.045},{"s":"5","t":8.6,"v":0.03},{"s":"5","t":9.1,"v":0.04},{"s":"5","t":9.7,"v":0.035},{"s":"5","t":10.1,"v":0.046},{"s":"5","t":10.7,"v":0.04},{"s":"5","t":11.2,"v":0.028},{"s":"5","t":11.6,"v":0.05},{"s":"5","t":12.06,"v":0.066},{"s":"5","t":12.6,"v":0.05},{"s":"5","t":13.2,"v":0.066},{"s":"5","t":13.7,"v":0.055},{"s":"5","t":14.3,"v":0.034},{"s":"5","t":14.9,"v":0.057},{"s":"5","t":15.4,"v":0.06},{"s":"5","t":16.0,"v":0.078},{"s":"5","t":16.5,"v":0.07},{"s":"5","t":17.1,"v":0.093},{"s":"5","t":17.6,"v":0.08},{"s":"5","t":18.2,"v":0.113},{"s":"5","t":18.7,"v":0.09},{"s":"5","t":19.1,"v":0.1},{"s":"5","t":19.6,"v":0.116},{"s":"5","t":20.3,"v":0.06},{"s":"5","t":21.0,"v":0.093},{"s":"5","t":21.5,"v":0.093},{"s":"5","t":22.1,"v":0.1},{"s":"5","t":22.7,"v":0.116},{"s":"5","t":23.0,"v":0.166},{"s":"5","t":23.6,"v":0.093},{"s":"5","t":24.1,"v":0.131},{"s":"5","t":24.6,"v":0.12},{"s":"5","t":25.2,"v":0.131},{"s":"5","t":25.7,"v":0.12},{"s":"5","t":26.2,"v":0.115},{"s":"5","t":26.8,"v":0.113},{"s":"5","t":27.3,"v":0.13},{"s":"5","t":27.9,"v":0.16},{"s":"5","t":28.5,"v":0.21},{"s":"5","t":29.1,"v":0.19},{"s":"5","t":29.7,"v":0.18},{"s":"5","t":30.3,"v":0.192},{"s":"5","t":30.8,"v":0.21},{"s":"5","t":31.4,"v":0.192},{"s":"5","t":32.0,"v":0.2},{"s":"5","t":32.5,"v":0.172},{"s":"5","t":33.1,"v":0.2},{"s":"5","t":33.7,"v":0.219},{"s":"5","t":34.2,"v":0.21},{"s":"5","t":34.7,"v":0.21},{"s":"5","t":35.1,"v":0.289},{"s":"5","t":35.6,"v":0.189},{"s":"5","t":36.2,"v":0.227},{"s":"5","t":36.7,"v":0.301},{"s":"5","t":37.1,"v":0.3},{"s":"5","t":37.6,"v":0.233},{"s":"5","t":38.1,"v":0.286},{"s":"5","t":38.7,"v":0.274},{"s":"5","t":39.3,"v":0.277},{"s":"5","t":39.5,"v":0.257},{"s":"5","t":40.1,"v":0.312},{"s":"5","t":40.7,"v":0.315},{"s":"5","t":41.1,"v":0.289},{"s":"5","t":41.5,"v":0.292},{"s":"5","t":42.0,"v":0.333},{"s":"5","t":42.5,"v":0.321},{"s":"5","t":43.1,"v":0.286},{"s":"5","t":43.6,"v":0.345},{"s":"5","t":44.2,"v":0.386},{"s":"5","t":44.6,"v":0.38},{"s":"5","t":45.2,"v":0.312},{"s":"5","t":45.6,"v":0.339},{"s":"5","t":46.2,"v":0.336},{"s":"5","t":46.7,"v":0.31},{"s":"5","t":47.1,"v":0.33},{"s":"5","t":47.6,"v":0.438},{"s":"5","t":48.0,"v":0.44},{"s":"5","t":48.8,"v":0.309},{"s":"5","t":49.6,"v":0.482},{"s":"5","t":50.2,"v":0.298},{"s":"5","t":50.76,"v":0.403},{"s":"5","t":51.3,"v":0.444},{"s":"5","t":51.9,"v":0.348},{"s":"5","t":52.5,"v":0.374},{"s":"5","t":52.8,"v":0.456},{"s":"5","t":53.3,"v":0.377},{"s":"5","t":53.8,"v":0.397},{"s":"5","t":54.3,"v":0.403},{"s":"5","t":54.85,"v":0.491},{"s":"5","t":55.36,"v":0.271},{"s":"5","t":55.8,"v":0.453},{"s":"5","t":56.4,"v":0.377},{"s":"5","t":56.9,"v":0.421},{"s":"5","t":57.4,"v":0.386},{"s":"5","t":57.9,"v":0.394},{"s":"5","t":58.4,"v":0.436},{"s":"5","t":58.9,"v":0.403},{"s":"5","t":59.4,"v":0.403},{"s":"5","t":59.9,"v":0.407}
],
"note": [
{"t":10.8,"v":0.468,"label":"fixed reward"},
{"t":10.8,"v":0.43,"label":"rate"}
]
},
"hconcat": [
{
"width": 364, "height": 288,
"data": {"name": "left"},
"encoding": {
"x": {"field": "t", "type": "quantitative", "scale": {"domain": [0, 61.3], "nice": false, "zero": false},
"axis": {"values": [0,10,20,30,40,50,60], "title": "time from reward (s)"}},
"color": {"field": "s", "type": "nominal", "legend": null,
"scale": {"domain": ["1","2","3","4","5"], "range": ["#6659e0","#4a8cbf","#18a890","#1ccc5c","#22f022"]}}
},
"layer": [
{"mark": {"type": "line", "strokeWidth": 1.1, "strokeDash": [1.5, 2], "opacity": 0.8},
"encoding": {"y": {"field": "lo", "type": "quantitative", "scale": {"domain": [0, 0.7], "nice": false},
"axis": {"values": [0,0.1,0.2,0.3,0.4,0.5,0.6], "format": ".1f", "title": "pressing rate (Hz)"}}}},
{"mark": {"type": "line", "strokeWidth": 1.1, "strokeDash": [1.5, 2], "opacity": 0.8},
"encoding": {"y": {"field": "hi", "type": "quantitative"}}},
{"mark": {"type": "line", "strokeWidth": 1.8},
"encoding": {"y": {"field": "m", "type": "quantitative"}}}
]
},
{
"width": 364, "height": 289,
"layer": [
{
"data": {"name": "right"},
"mark": {"type": "line", "strokeWidth": 1.7},
"encoding": {
"x": {"field": "t", "type": "quantitative", "scale": {"domain": [0, 61.3], "nice": false, "zero": false},
"axis": {"values": [0,10,20,30,40,50,60], "title": "time from reward (s)"}},
"y": {"field": "v", "type": "quantitative", "scale": {"domain": [-0.008, 0.5], "nice": false, "zero": false},
"axis": {"values": [0,0.1,0.2,0.3,0.4,0.5], "format": ".1f", "title": "pressing rate (Hz)"}},
"color": {"field": "s", "type": "nominal", "legend": null,
"scale": {"domain": ["1","2","3","4","5"], "range": ["#6659e0","#4a8cbf","#18a890","#1ccc5c","#22f022"]}}
}
},
{
"data": {"name": "note"},
"mark": {"type": "text", "font": "Liberation Sans", "fontSize": 19, "color": "#ff3b1f", "align": "center", "baseline": "middle"},
"encoding": {
"x": {"field": "t", "type": "quantitative"},
"y": {"field": "v", "type": "quantitative"},
"text": {"field": "label"}
}
}
]
}
],
"config": {
"view": {"stroke": null},
"axis": {
"grid": false,
"domainColor": "black", "domainWidth": 3,
"tickColor": "black", "tickWidth": 2.5, "tickSize": 7,
"labelFont": "Liberation Sans", "labelFontSize": 22, "labelColor": "black", "labelPadding": 4,
"labelFlush": false, "labelOverlap": false,
"titleFont": "Liberation Sans", "titleFontSize": 24.5, "titleFontWeight": "normal", "titleColor": "black",
"titlePadding": 6
}
}
}
